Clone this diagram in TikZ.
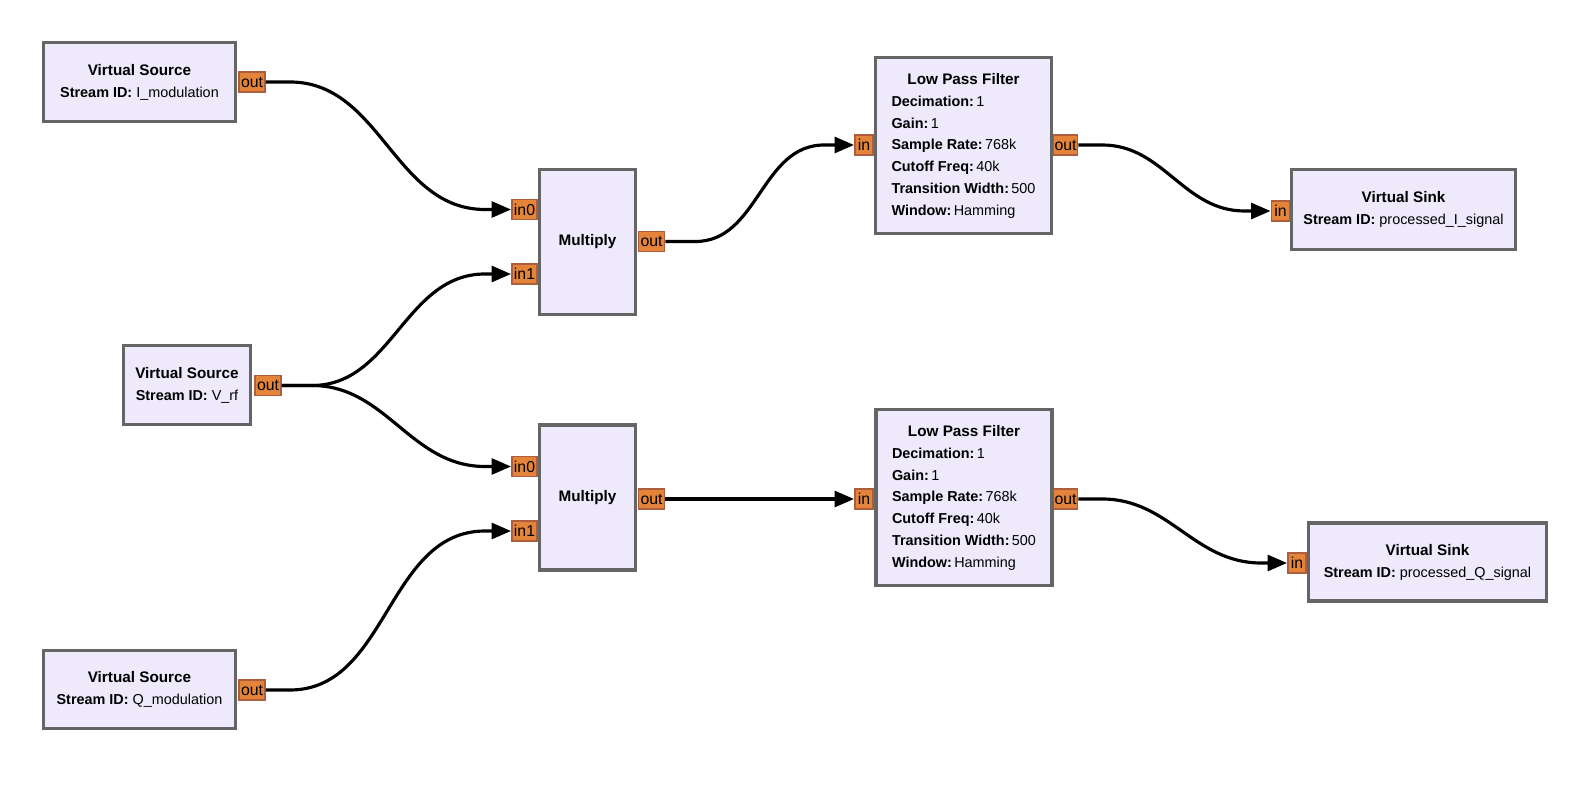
\documentclass[tikz,border=0pt]{standalone}
\usepackage{fontspec}
\setmainfont{Liberation Sans}
\usetikzlibrary{arrows.meta,calc}

\definecolor{blockfill}{HTML}{EEEAFB}
\definecolor{blockline}{HTML}{656565}
\definecolor{portfill}{HTML}{E4843A}
\definecolor{portline}{HTML}{AD5E3C}

\begin{document}
\begin{tikzpicture}[x=0.02cm, y=-0.02cm,
        block/.style={draw=blockline, line width=1.8pt, fill=blockfill, inner sep=0pt,
            font=\fontsize{8.2}{12.4}\selectfont},
        title/.style={font=\fontsize{8.7}{10}\selectfont\bfseries},
        port/.style={draw=portline, line width=1.1pt, fill=portfill, inner sep=0pt,
            minimum height=0.4cm, font=\fontsize{9}{10}\selectfont},
        wire/.style={line width=1.8pt, -{Triangle[length=11pt,width=9pt]}}]
                \fill[white] (0,0) rectangle (1586,800);
                \useasboundingbox (0,0) rectangle (1586,800);

                %%ports
                \node[port, minimum width=0.52cm] (srcIout) at (252,82) {out};
                \node[port, minimum width=0.52cm] (srcVout) at (268,385.5) {out};
                \node[port, minimum width=0.52cm] (srcQout) at (252,690) {out};
                \node[port, minimum width=0.5cm] (mulAin0) at (524.5,209.5) {in0};
                \node[port, minimum width=0.5cm] (mulAin1) at (524.5,274) {in1};
                \node[port, minimum width=0.52cm] (mulAout) at (651.5,241.5) {out};
                \node[port, minimum width=0.5cm] (mulBin0) at (524.5,466.5) {in0};
                \node[port, minimum width=0.5cm] (mulBin1) at (524.5,531) {in1};
                \node[port, minimum width=0.52cm] (mulBout) at (651.5,499) {out};
                \node[port, minimum width=0.36cm] (lpfAin) at (864,145) {in};
                \node[port, minimum width=0.48cm] (lpfAout) at (1065.5,145) {out};
                \node[port, minimum width=0.36cm] (lpfBin) at (864,499) {in};
                \node[port, minimum width=0.48cm] (lpfBout) at (1065.5,499) {out};
                \node[port, minimum width=0.36cm] (snkAin) at (1280.5,211) {in};
                \node[port, minimum width=0.36cm] (snkBin) at (1297,563) {in};

                %%sources
                \node[block, minimum width=3.84cm, minimum height=1.58cm] (srcI) at (139.5,82)
                    {\begin{tabular}{@{}c@{}}{\fontsize{8.7}{10}\selectfont\bfseries Virtual Source}\\
                     \textbf{Stream ID:} I\_modulation\end{tabular}};
                \node[block, minimum width=2.54cm, minimum height=1.58cm] (srcV) at (187,385)
                    {\begin{tabular}{@{}c@{}}{\fontsize{8.7}{10}\selectfont\bfseries Virtual Source}\\
                     \textbf{Stream ID:} V\_rf\end{tabular}};
                \node[block, minimum width=3.84cm, minimum height=1.56cm] (srcQ) at (139.5,689.5)
                    {\begin{tabular}{@{}c@{}}{\fontsize{8.7}{10}\selectfont\bfseries Virtual Source}\\
                     \textbf{Stream ID:} Q\_modulation\end{tabular}};

                %%multipliers
                \node[block, title, minimum width=1.92cm, minimum height=2.9cm] (mulA) at (587.5,242) {Multiply};
                \node[block, title, minimum width=1.92cm, minimum height=2.9cm] (mulB) at (587.5,497.5) {Multiply};

                %%filters
                \node[block, minimum width=3.52cm, minimum height=3.52cm] (lpfA) at (963.5,145.5)
                    {\begin{tabular}{@{}l@{}}\multicolumn{1}{@{}c@{}}{\fontsize{8.7}{10}\selectfont\bfseries Low Pass Filter}\\
                     \textbf{Decimation:}\,1\\ \textbf{Gain:}\,1\\ \textbf{Sample Rate:}\,768k\\
                     \textbf{Cutoff Freq:}\,40k\\ \textbf{Transition Width:}\,500\\ \textbf{Window:}\,Hamming\end{tabular}};
                \node[block, minimum width=3.52cm, minimum height=3.52cm] (lpfB) at (964,497.5)
                    {\begin{tabular}{@{}l@{}}\multicolumn{1}{@{}c@{}}{\fontsize{8.7}{10}\selectfont\bfseries Low Pass Filter}\\
                     \textbf{Decimation:}\,1\\ \textbf{Gain:}\,1\\ \textbf{Sample Rate:}\,768k\\
                     \textbf{Cutoff Freq:}\,40k\\ \textbf{Transition Width:}\,500\\ \textbf{Window:}\,Hamming\end{tabular}};

                %%sinks
                \node[block, minimum width=4.48cm, minimum height=1.6cm] (snkA) at (1403.5,209.5)
                    {\begin{tabular}{@{}c@{}}{\fontsize{8.7}{10}\selectfont\bfseries Virtual Sink}\\
                     \textbf{Stream ID:} processed\_I\_signal\end{tabular}};
                \node[block, minimum width=4.76cm, minimum height=1.56cm] (snkB) at (1427.5,562)
                    {\begin{tabular}{@{}c@{}}{\fontsize{8.7}{10}\selectfont\bfseries Virtual Sink}\\
                     \textbf{Stream ID:} processed\_Q\_signal\end{tabular}};

                %%connections
                \draw[wire]
                    (srcIout.east) -- ++(24,0) to[out=0,in=180] ($(mulAin0.west)+(-26,0)$) -- (mulAin0.west);
                \draw[wire]
                    (srcVout.east) -- ++(30,0) to[out=0,in=180] ($(mulAin1.west)+(-26,0)$) -- (mulAin1.west);
                \draw[wire]
                    (srcVout.east) -- ++(30,0) to[out=0,in=180] ($(mulBin0.west)+(-26,0)$) -- (mulBin0.west);
                \draw[wire]
                    (srcQout.east) -- ++(24,0) to[out=0,in=180] ($(mulBin1.west)+(-26,0)$) -- (mulBin1.west);
                \draw[wire]
                    (mulAout.east) -- ++(30,0) to[out=0,in=180] ($(lpfAin.west)+(-30,0)$) -- (lpfAin.west);
                \draw[wire]
                    (mulBout.east) -- (lpfBin.west);
                \draw[wire]
                    (lpfAout.east) -- ++(24,0) to[out=0,in=180] ($(snkAin.west)+(-26,0)$) -- (snkAin.west);
                \draw[wire]
                    (lpfBout.east) -- ++(24,0) to[out=0,in=180] ($(snkBin.west)+(-26,0)$) -- (snkBin.west);
\end{tikzpicture}
\end{document}
